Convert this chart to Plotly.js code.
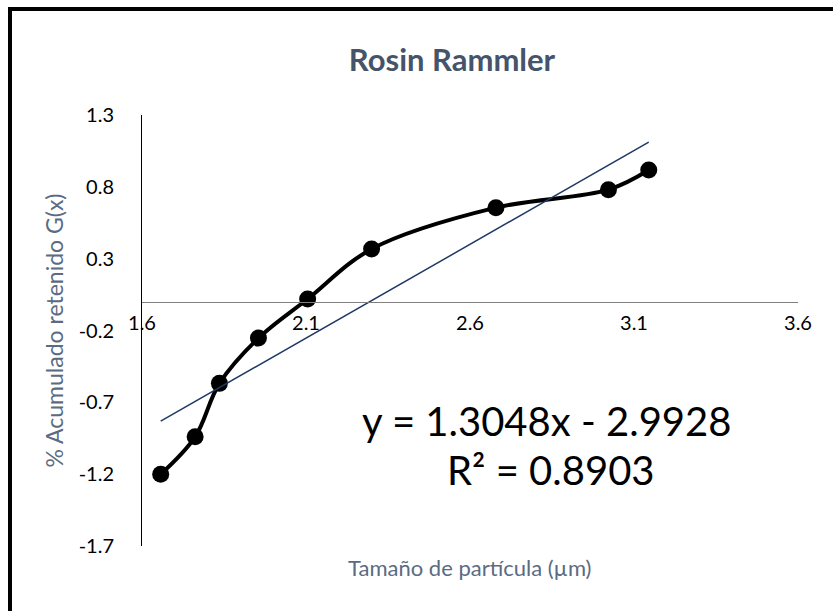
<!DOCTYPE html>
<html>
<head>
<meta charset="utf-8">
<script src="https://cdn.plot.ly/plotly-3.0.1.min.js"></script>
<style>
  html, body { margin: 0; padding: 0; background: #fff; }
  #wrap { position: relative; width: 833px; height: 611px; overflow: hidden; }
  #chart { width: 833px; height: 611px; }
  #frame { position: absolute; left: 8px; top: 7px; width: 900px; height: 700px;
           border-left: 4px solid #000; border-top: 4px solid #000; pointer-events: none; }
</style>
</head>
<body>
<div id="wrap">
  <div id="chart"></div>
  <div id="frame"></div>
</div>
<script>
// Data
const particleSize = [1.657, 1.762, 1.836, 1.955, 2.105, 2.300, 2.679, 3.022, 3.145];
const gValues      = [-1.200, -0.940, -0.568, -0.253, 0.019, 0.367, 0.655, 0.780, 0.917];
const slope = 1.3048;
const intercept = -2.9928;
const rSquared = 0.8903;
const xTicks = [1.6, 2.1, 2.6, 3.1, 3.6];
const yTicks = [-1.7, -1.2, -0.7, -0.2, 0.3, 0.8, 1.3];

const xMin = Math.min(...particleSize), xMax = Math.max(...particleSize);
const trendX = [xMin, xMax];
const trendY = trendX.map(x => slope * x + intercept);

const font = "Lato, 'Open Sans', sans-serif";
const titleColor = '#44546A';
const axisTitleColor = '#5B6B82';

const traces = [
  {
    x: particleSize, y: gValues, type: 'scatter', mode: 'lines+markers',
    line: { color: '#000000', width: 4, shape: 'spline', smoothing: 1 },
    marker: { color: '#000000', size: 17 },
    showlegend: false, hoverinfo: 'skip'
  },
  {
    x: trendX, y: trendY, type: 'scatter', mode: 'lines',
    line: { color: '#1F3864', width: 1.5 },
    showlegend: false, hoverinfo: 'skip'
  }
];

const px2x = p => (p - 142) / 656;
const px2y = p => (546 - p) / 431;

const layout = {
  width: 833, height: 611,
  margin: { l: 142, r: 35, t: 115, b: 65 },
  paper_bgcolor: '#ffffff', plot_bgcolor: '#ffffff',
  font: { family: font, color: '#000000', size: 20 },
  title: {
    text: '<b>Rosin Rammler</b>',
    font: { family: font, size: 31, color: titleColor },
    x: px2x(452), xanchor: 'center', xref: 'paper',
    y: 1 - 60 / 611, yanchor: 'middle', yref: 'container'
  },
  xaxis: {
    range: [1.6, 3.6], tickvals: xTicks, ticktext: xTicks.map(v => v.toFixed(1)),
    showgrid: false, zeroline: false, showline: true, linecolor: '#808080', linewidth: 1.5,
    ticks: '', anchor: 'free', position: (0 - (-1.7)) / (1.3 - (-1.7)),
    ticklabelstandoff: 3,
    tickfont: { family: font, size: 20, color: '#000000' }
  },
  yaxis: {
    range: [-1.7, 1.3], tickvals: yTicks, ticktext: yTicks.map(v => v.toFixed(1)),
    showgrid: false, zeroline: false, showline: true, linecolor: '#000000', linewidth: 1,
    ticks: '', ticklabelstandoff: 23,
    tickfont: { family: font, size: 20, color: '#000000' },
    title: { text: '% Acumulado retenido G(x)', font: { family: font, size: 23, color: axisTitleColor }, standoff: 8 }
  },
  annotations: [
    {
      text: 'Tamaño de partícula (µm)', xref: 'paper', yref: 'paper',
      x: px2x(469), y: px2y(567), xanchor: 'center', yanchor: 'middle',
      showarrow: false, font: { family: font, size: 22, color: axisTitleColor }
    },
    {
      text: 'y = ' + slope.toFixed(4) + 'x - ' + Math.abs(intercept).toFixed(4),
      xref: 'paper', yref: 'paper',
      x: px2x(546), y: px2y(421), xanchor: 'center', yanchor: 'middle',
      showarrow: false, font: { family: font, size: 40, color: '#000000' }
    },
    {
      text: 'R² = ' + rSquared.toFixed(4),
      xref: 'paper', yref: 'paper',
      x: px2x(551), y: px2y(470), xanchor: 'center', yanchor: 'middle',
      showarrow: false, font: { family: font, size: 40, color: '#000000' }
    }
  ]
};

Plotly.newPlot('chart', traces, layout, { staticPlot: true, displayModeBar: false });
</script>
</body>
</html>
